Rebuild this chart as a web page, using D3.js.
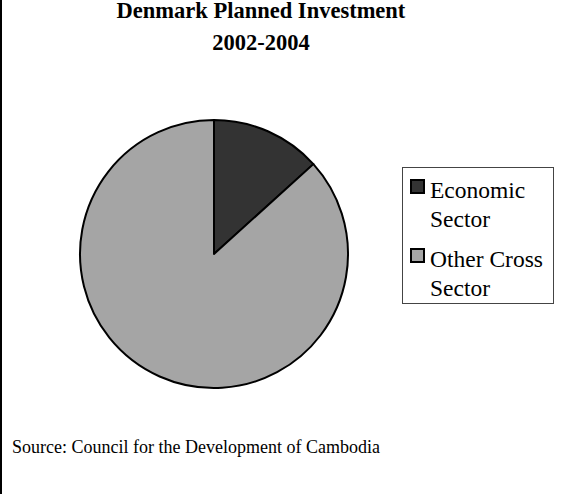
<!DOCTYPE html>
<html>
<head>
<meta charset="utf-8">
<script src="https://cdn.jsdelivr.net/npm/d3@7"></script>
<style>
  body { margin: 0; background: #fff; }
  svg { display: block; font-family: "Liberation Serif", "Times New Roman", serif; }
</style>
</head>
<body>
<svg id="chart" width="585" height="494"></svg>
<script>
// data
const sectors = ["Economic Sector", "Other Cross Sector"];
const legendLines = [["Economic", "Sector"], ["Other Cross", "Sector"]];
const shares = [13.3, 86.7];
const colours = ["#333333", "#a5a5a5"];
const titleLines = ["Denmark Planned Investment", "2002-2004"];
const sourceNote = "Source: Council for the Development of Cambodia";

const svg = d3.select("#chart");

// left frame edge
svg.append("line")
  .attr("x1", 1).attr("x2", 1)
  .attr("y1", 0).attr("y2", 494)
  .attr("stroke", "#000")
  .attr("stroke-width", 2);

// title
svg.selectAll("text.title")
  .data(titleLines)
  .join("text")
  .attr("class", "title")
  .attr("x", 261)
  .attr("y", (d, i) => 18 + i * 32)
  .attr("text-anchor", "middle")
  .attr("font-weight", "bold")
  .attr("font-size", "22.5px")
  .text((d) => d);

// pie
const pieData = d3.pie().sort(null).value((d) => d)(shares);
const arc = d3.arc().innerRadius(0).outerRadius(134);

const g = svg.append("g").attr("transform", "translate(214,254)");
g.selectAll("path")
  .data(pieData)
  .join("path")
  .attr("d", arc)
  .attr("fill", (d, i) => colours[i])
  .attr("stroke", "#000")
  .attr("stroke-width", 2)
  .attr("stroke-linejoin", "round");

// legend
const legend = svg.append("g");
legend.append("rect")
  .attr("x", 402.5).attr("y", 167.5)
  .attr("width", 151).attr("height", 136)
  .attr("fill", "#fff")
  .attr("stroke", "#444")
  .attr("stroke-width", 1);

const item = legend.selectAll("g.item")
  .data(sectors)
  .join("g")
  .attr("class", "item")
  .attr("transform", (d, i) => "translate(0," + i * 69 + ")");

item.append("rect")
  .attr("x", 411).attr("y", 180)
  .attr("width", 13).attr("height", 13)
  .attr("fill", (d, i) => colours[i])
  .attr("stroke", "#000")
  .attr("stroke-width", 2);

item.each(function (d, i) {
  d3.select(this).selectAll("text")
    .data(legendLines[i])
    .join("text")
    .attr("x", 430)
    .attr("y", (t, j) => 197.5 + j * 29.5)
    .attr("font-size", "23.5px")
    .text((t) => t);
});

// source note
svg.append("text")
  .attr("x", 12)
  .attr("y", 453)
  .attr("font-size", "18px")
  .text(sourceNote);
</script>
</body>
</html>
